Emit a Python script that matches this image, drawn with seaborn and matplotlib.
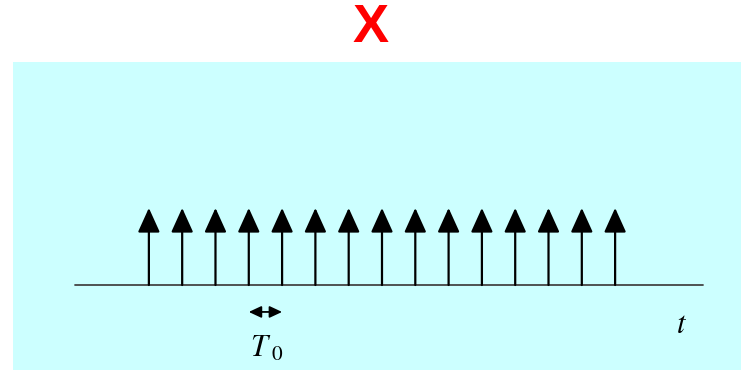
import numpy as np
import pandas as pd
import matplotlib
matplotlib.use("Agg")
import matplotlib.pyplot as plt
import seaborn as sns

# impulse train x(t) = sum delta(t - n*T0)
T0 = 1.0
impulse_index = list(range(15))
impulse_height = [1.0] * 15
axis_range = [-2.22, 16.65]

df = pd.DataFrame({
    "t": [n * T0 for n in impulse_index],
    "height": impulse_height,
})

sns.set_theme(style="white")
plt.rcParams["mathtext.fontset"] = "stix"
plt.rcParams["font.family"] = ["Liberation Serif", "DejaVu Serif"]
plt.rcParams["text.color"] = "black"

fig = plt.figure(figsize=(7.41, 3.70), dpi=100)
ax = fig.add_axes([13 / 741, 0, 1 - 13 / 741, 308 / 370])
ax.set_facecolor("#ccffff")
for s in ax.spines.values():
    s.set_visible(False)
ax.set_xticks([])
ax.set_yticks([])
ax.set_xlim(-4.08, 17.78)
ax.set_ylim(-1.104, 2.896)

# time axis
sns.lineplot(x=axis_range, y=[0, 0], color="#444444", linewidth=1.3, ax=ax)

# impulses as arrows
for _, row in df.iterrows():
    ax.annotate(
        "", xy=(row["t"], row["height"]), xytext=(row["t"], 0),
        arrowprops=dict(arrowstyle="-|>,head_length=1.5,head_width=0.68",
                        color="black", lw=1.6, mutation_scale=10,
                        shrinkA=0, shrinkB=0),
    )

# period marker
ax.annotate(
    "", xy=(3 * T0, -0.35), xytext=(4 * T0, -0.35),
    arrowprops=dict(arrowstyle="<|-|>,head_length=0.75,head_width=0.35",
                    color="black", lw=1.3, mutation_scale=10,
                    shrinkA=0, shrinkB=0),
)
ax.text(3.55 * T0, -0.83, r"$T_{\;0}$", fontsize=22, color="black",
        ha="center", va="center")
ax.text(16.0, -0.52, r"$t$", fontsize=22, color="black",
        ha="center", va="center")

fig.text(371 / 741, 1 - 28 / 370, "X", color="red", fontsize=39,
         fontweight="bold", family="Liberation Sans", ha="center", va="center")

fig.savefig("out.png", dpi=100)
